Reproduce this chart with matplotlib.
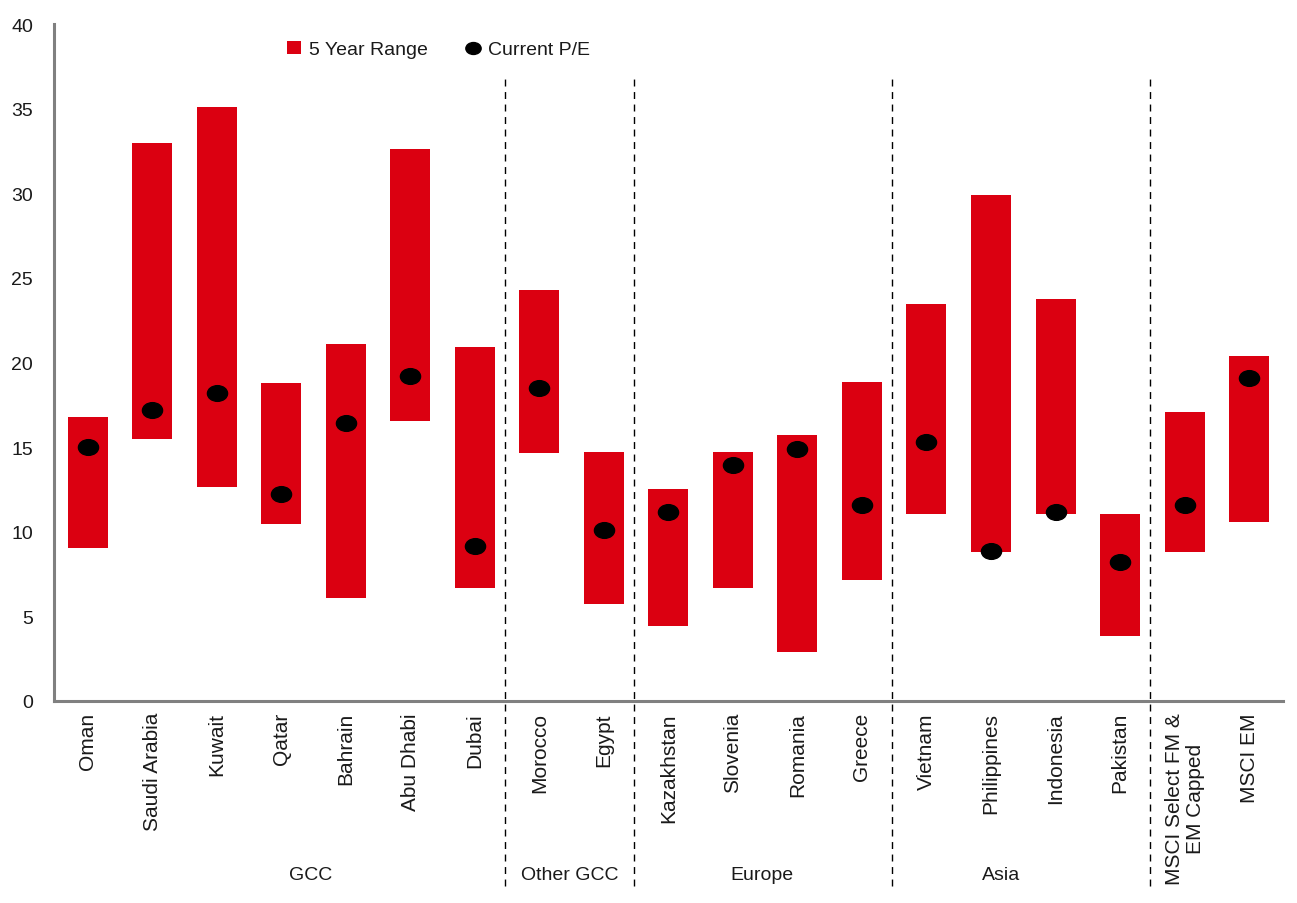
import matplotlib
matplotlib.use("Agg")
import matplotlib.pyplot as plt
from matplotlib.patches import Patch
from matplotlib.lines import Line2D
from matplotlib.path import Path
import matplotlib.transforms as mtransforms

plt.rcParams['font.family'] = ['Liberation Sans', 'DejaVu Sans']

countries = ["Oman", "Saudi Arabia", "Kuwait", "Qatar", "Bahrain", "Abu Dhabi", "Dubai",
             "Morocco", "Egypt", "Kazakhstan", "Slovenia", "Romania", "Greece",
             "Vietnam", "Philippines", "Indonesia", "Pakistan",
             "MSCI Select FM &\nEM Capped", "MSCI EM"]
range_high = [16.8, 33.0, 35.1, 18.8, 21.1, 32.6, 20.9, 24.3, 14.7, 12.5, 14.7, 15.7, 18.85,
              23.45, 29.9, 23.75, 11.05, 17.1, 20.4]
range_low = [9.05, 15.5, 12.65, 10.45, 6.1, 16.55, 6.7, 14.65, 5.7, 4.45, 6.7, 2.9, 7.15,
             11.05, 8.8, 11.05, 3.85, 8.8, 10.6]
current_pe = [15.0, 17.2, 18.2, 12.2, 16.45, 19.2, 9.15, 18.5, 10.1, 11.15, 13.95, 14.9, 11.6,
              15.3, 8.85, 11.15, 8.2, 11.55, 19.1]
groups = ["GCC", "Other GCC", "Europe", "Asia"]
group_sizes = [7, 2, 4, 4]

RED = "#DB0011"
GREY = "#808080"
TXT = "#1a1a1a"

# slightly flattened ellipse marker
circ = Path.unit_circle()
ellipse = Path(circ.vertices * [1.0, 0.78], circ.codes)

fig = plt.figure(figsize=(12.97, 9.04), dpi=100)
ax = fig.add_axes([0.0416, 0.2235, 0.9474, 0.7488])

x = list(range(len(countries)))
heights = [h - l for h, l in zip(range_high, range_low)]
ax.bar(x, heights, bottom=range_low, width=0.62, color=RED, zorder=2)
ax.plot(x, current_pe, linestyle='none', marker=ellipse, markersize=14.5, color='black', zorder=3)

ax.set_xlim(-0.52, len(countries) - 0.48)
ax.set_ylim(0, 40)
ax.set_yticks(range(0, 41, 5))
ax.set_xticks(x)
ax.set_xticklabels(countries, rotation=90, fontsize=15, color=TXT, linespacing=1.15,
                   multialignment='center')
ax.tick_params(axis='y', length=0, pad=15, labelsize=14, labelcolor=TXT)
ax.tick_params(axis='x', length=0, pad=8)
for s in ['top', 'right']:
    ax.spines[s].set_visible(False)
for s in ['left', 'bottom']:
    ax.spines[s].set_color(GREY)
    ax.spines[s].set_linewidth(2.2)

trans = mtransforms.blended_transform_factory(ax.transData, fig.transFigure)
pos = 0
bounds = []
for n in group_sizes:
    bounds.append((pos - 0.5, pos + n - 0.5))
    pos += n
for (a, b) in bounds:
    line = Line2D([b - 0.03, b - 0.03], [0.019, 0.916], transform=trans, color='black',
                  linewidth=1.0, linestyle=(0, (5, 4)))
    fig.add_artist(line)

label_x = [3.46, 7.47, 10.45, 14.15]
for g, lx in zip(groups, label_x):
    fig.text(lx, 0.031, g, transform=trans, ha='center', va='center', fontsize=14, color=TXT)

handles = [Patch(facecolor=RED, edgecolor='none', label='5 Year Range'),
           Line2D([], [], linestyle='none', marker=ellipse, markersize=11, color='black',
                  label='Current P/E')]
fig.legend(handles=handles, loc='center left', bbox_to_anchor=(0.2155, 0.944), ncol=2,
           frameon=False, fontsize=14, handlelength=0.7, handleheight=0.7, handletextpad=0.4,
           columnspacing=2.0, labelcolor=TXT, borderaxespad=0)

fig.savefig("out.png", dpi=100)
